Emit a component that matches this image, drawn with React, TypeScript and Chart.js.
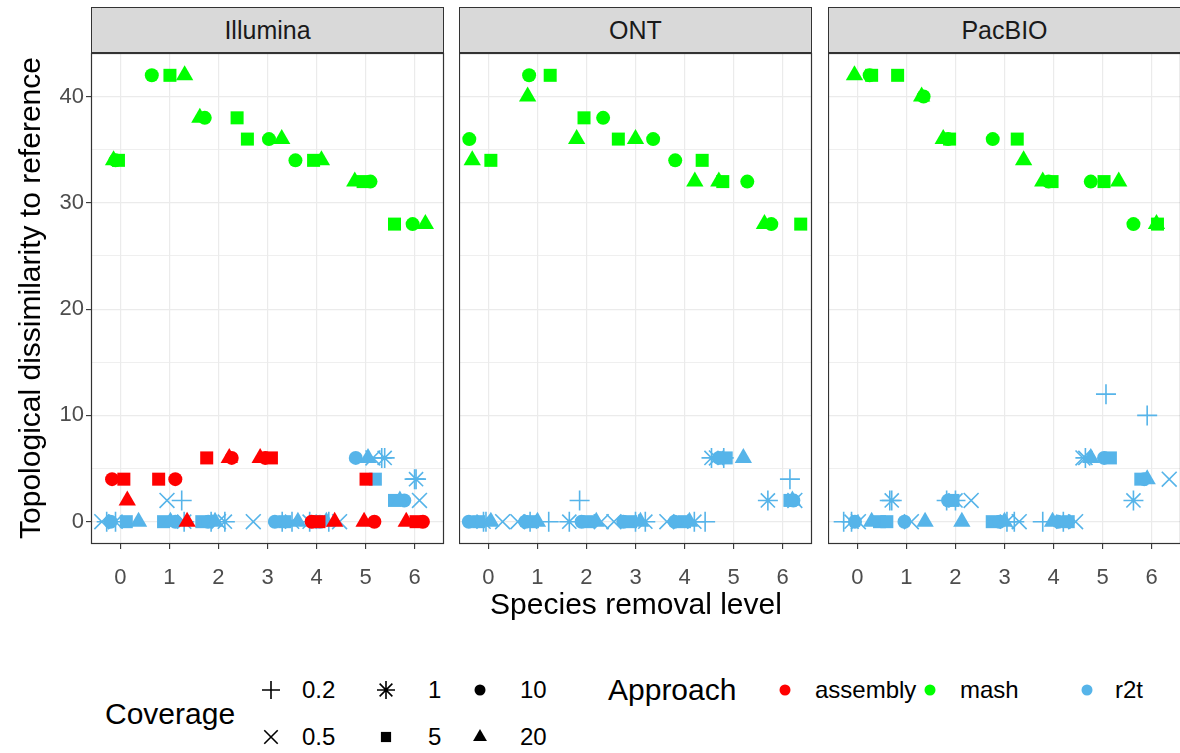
import React, { useEffect, useRef } from 'react';
import { Chart, registerables } from 'chart.js';
import { drawPoint } from 'chart.js/helpers';

Chart.register(...registerables);

// [jittered species removal level, topological dissimilarity, coverage]
type Pt = [number, number, number];

const panelNames = ['Illumina', 'ONT', 'PacBIO'];
const levelTicks = [0, 1, 2, 3, 4, 5, 6];
const yGridValues = [0, 5, 10, 15, 20, 25, 30, 35, 40];
const coverageLevels = [0.2, 0.5, 1, 5, 10, 20];
const approachNames = ['assembly', 'mash', 'r2t'];
const approachColors = ['#FF0000', '#00FF00', '#56B4E9'];

const illuminaAssembly: Pt[] = [
  [-0.17, 4, 10], [0.07, 4, 5], [0.14, 2, 20],
  [0.78, 4, 5], [1.12, 4, 10], [1.36, 0, 20],
  [1.76, 6, 5], [2.22, 6, 20], [2.27, 6, 10],
  [2.85, 6, 20], [2.95, 6, 10], [3.08, 6, 5],
  [3.9, 0, 10], [4.05, 0, 5], [4.37, 0, 20],
  [4.97, 0, 20], [5.18, 0, 10], [5.01, 4, 5],
  [5.83, 0, 20], [6.03, 0, 5], [6.17, 0, 10],
];
const illuminaMash: Pt[] = [
  [-0.1, 34, 10], [-0.04, 34, 5], [-0.14, 34, 20],
  [0.64, 42, 10], [1.01, 42, 5], [1.31, 42, 20],
  [1.72, 38, 10], [2.38, 38, 5], [1.62, 38, 20],
  [3.03, 36, 10], [2.59, 36, 5], [3.29, 36, 20],
  [3.57, 34, 10], [3.94, 34, 5], [4.1, 34, 20],
  [5.1, 32, 10], [4.95, 32, 5], [4.78, 32, 20],
  [5.96, 28, 10], [5.59, 28, 5], [6.22, 28, 20],
];
const illuminaR2t: Pt[] = [
  [-0.28, 0, 0.2], [-0.38, 0, 0.5], [-0.1, 0, 1], [0.12, 0, 5], [-0.2, 0, 10], [0.37, 0, 20],
  [1.25, 2, 0.2], [0.95, 2, 0.5], [1.3, 0, 1], [0.88, 0, 5], [1.12, 0, 10], [1.02, 0, 20],
  [1.85, 0, 0.2], [2.0, 0, 0.5], [2.13, 0, 1], [1.66, 0, 5], [1.79, 0, 10], [1.93, 0, 20],
  [3.3, 0, 0.2], [2.71, 0, 0.5], [3.5, 0, 1], [3.35, 0, 5], [3.15, 0, 10], [3.62, 0, 20],
  [4.25, 0, 0.2], [4.47, 0, 0.5], [3.86, 0, 1], [4.0, 0, 5], [4.07, 0, 10], [4.2, 0, 20],
  [5.33, 6, 0.2], [5.15, 6, 0.5], [5.39, 6, 1], [5.2, 4, 5], [4.8, 6, 10], [5.05, 6, 20],
  [6.0, 4, 0.2], [6.1, 2, 0.5], [6.03, 4, 1], [5.59, 2, 5], [5.79, 2, 10], [5.7, 2, 20],
];

const ontAssembly: Pt[] = [];
const ontMash: Pt[] = [
  [-0.39, 36, 10], [0.05, 34, 5], [-0.33, 34, 20],
  [0.83, 42, 10], [1.26, 42, 5], [0.8, 40, 20],
  [2.34, 38, 10], [1.95, 38, 5], [1.8, 36, 20],
  [3.36, 36, 10], [2.65, 36, 5], [3.0, 36, 20],
  [3.81, 34, 10], [4.36, 34, 5], [4.21, 32, 20],
  [5.28, 32, 10], [4.78, 32, 5], [4.7, 32, 20],
  [5.77, 28, 10], [6.37, 28, 5], [5.63, 28, 20],
];
const ontR2t: Pt[] = [
  [-0.05, 0, 0.2], [0.29, 0, 0.5], [-0.1, 0, 1], [-0.2, 0, 5], [-0.4, 0, 10], [0.05, 0, 20],
  [1.23, 0, 0.2], [0.6, 0, 0.5], [0.85, 0, 1], [0.9, 0, 5], [0.75, 0, 10], [1.0, 0, 20],
  [1.86, 2, 0.2], [2.3, 0, 0.5], [1.65, 0, 1], [2.05, 0, 5], [1.9, 0, 10], [2.2, 0, 20],
  [3.0, 0, 0.2], [2.56, 0, 0.5], [3.2, 0, 1], [2.9, 0, 5], [2.75, 0, 10], [3.1, 0, 20],
  [4.42, 0, 0.2], [3.64, 0, 0.5], [4.2, 0, 1], [4.0, 0, 5], [3.8, 0, 10], [4.1, 0, 20],
  [4.8, 6, 0.2], [4.65, 6, 0.5], [4.55, 6, 1], [4.85, 6, 5], [4.7, 6, 10], [5.2, 6, 20],
  [6.15, 4, 0.2], [6.25, 2, 0.5], [5.7, 2, 1], [6.15, 2, 5], [6.22, 2, 10], [6.2, 2, 20],
];

const pacbioAssembly: Pt[] = [];
const pacbioMash: Pt[] = [
  [0.25, 42, 10], [0.29, 42, 5], [-0.06, 42, 20],
  [1.35, 40, 10], [0.82, 42, 5], [1.31, 40, 20],
  [1.85, 36, 10], [1.88, 36, 5], [1.75, 36, 20],
  [2.76, 36, 10], [3.26, 36, 5], [3.39, 34, 20],
  [3.9, 32, 10], [3.97, 32, 5], [3.78, 32, 20],
  [4.76, 32, 10], [5.03, 32, 5], [5.33, 32, 20],
  [5.63, 28, 10], [6.12, 28, 5], [6.1, 28, 20],
];
const pacbioR2t: Pt[] = [
  [-0.28, 0, 0.2], [0.02, 0, 0.5], [-0.12, 0, 1], [0.45, 0, 5], [-0.05, 0, 10], [0.29, 0, 20],
  [0.66, 2, 0.2], [1.1, 0, 0.5], [0.7, 2, 1], [0.6, 0, 5], [0.96, 0, 10], [1.38, 0, 20],
  [1.82, 2, 0.2], [2.32, 2, 0.5], [2.0, 2, 1], [1.95, 2, 5], [1.85, 2, 10], [2.13, 0, 20],
  [3.2, 0, 0.2], [3.3, 0, 0.5], [3.05, 0, 1], [2.75, 0, 5], [2.9, 0, 10], [3.0, 0, 20],
  [3.78, 0, 0.2], [4.45, 0, 0.5], [4.2, 0, 1], [4.3, 0, 5], [4.1, 0, 10], [3.98, 0, 20],
  [5.07, 12, 0.2], [4.6, 6, 0.5], [4.65, 6, 1], [5.16, 6, 5], [5.03, 6, 10], [4.76, 6, 20],
  [5.91, 10, 0.2], [6.36, 4, 0.5], [5.63, 2, 1], [5.78, 4, 5], [5.85, 4, 10], [5.91, 4, 20],
];

const panelSeries: Pt[][][] = [
  [illuminaAssembly, illuminaMash, illuminaR2t],
  [ontAssembly, ontMash, ontR2t],
  [pacbioAssembly, pacbioMash, pacbioR2t],
];

// ---- styling / layout ----
const FONT = "'Liberation Sans', Arial, Helvetica, sans-serif";
const PANEL_LEFTS = [91, 459, 828];
const PANEL_W = 353;
const PLOT_TOP = 53;
const PLOT_H = 491;
const X_AXIS_H = 60;
const Y_AXIS_W = 50;

type Shape = { style: string; r: number; line: boolean };
const panelShapes: Record<string, Shape> = {
  '0.2': { style: 'cross', r: 10, line: true },
  '0.5': { style: 'crossRot', r: 10.5, line: true },
  '1': { style: 'star', r: 10, line: true },
  '5': { style: 'rect', r: 9.2, line: false },
  '10': { style: 'circle', r: 7, line: false },
  '20': { style: 'triangle', r: 10, line: false },
};
const legendShapes: Record<string, Shape> = {
  '0.2': { style: 'cross', r: 9, line: true },
  '0.5': { style: 'crossRot', r: 9.5, line: true },
  '1': { style: 'star', r: 9, line: true },
  '5': { style: 'rect', r: 7.2, line: false },
  '10': { style: 'circle', r: 5.5, line: false },
  '20': { style: 'triangle', r: 8, line: false },
};

function shapeOf(c: any): Shape {
  return panelShapes[String(c)] || panelShapes['10'];
}

function makeDataset(label: string, pts: Pt[], color: string) {
  return {
    label,
    data: pts.map(([x, y, c]) => ({ x, y, c })),
    pointStyle: (ctx: any) => shapeOf(ctx.raw?.c).style,
    pointRadius: (ctx: any) => shapeOf(ctx.raw?.c).r,
    pointHoverRadius: (ctx: any) => shapeOf(ctx.raw?.c).r,
    pointBorderWidth: (ctx: any) => (shapeOf(ctx.raw?.c).line ? 1.6 : 0),
    pointBackgroundColor: color,
    pointBorderColor: color,
    showLine: false,
  };
}

const panelBorder = {
  id: 'panelBorder',
  afterDraw(chart: any) {
    const { ctx, chartArea: a } = chart;
    ctx.save();
    ctx.strokeStyle = '#333333';
    ctx.lineWidth = 1.2;
    ctx.strokeRect(a.left + 0.5, a.top + 0.5, a.right - a.left - 1, a.bottom - a.top - 1);
    ctx.restore();
  },
};

function Panel({ index }: { index: number }) {
  const ref = useRef<HTMLCanvasElement>(null);
  const showY = index === 0;
  const leftW = showY ? Y_AXIS_W : 0;
  const w = leftW + PANEL_W + 1;
  const h = 1 + PLOT_H + X_AXIS_H;
  useEffect(() => {
    const series = panelSeries[index];
    const chart = new Chart(ref.current as HTMLCanvasElement, {
      type: 'scatter',
      data: {
        datasets: series.map((pts, i) => makeDataset(approachNames[i], pts, approachColors[i])) as any,
      },
      options: {
        responsive: false,
        animation: false,
        devicePixelRatio: 1,
        events: [],
        layout: { autoPadding: false, padding: { top: 1, right: 1, left: 0, bottom: 0 } } as any,
        plugins: { legend: { display: false }, tooltip: { enabled: false } },
        scales: {
          x: {
            type: 'linear',
            min: -0.6,
            max: 6.6,
            afterBuildTicks: (s: any) => {
              s.ticks = levelTicks.map((v) => ({ value: v }));
            },
            afterFit: (s: any) => {
              s.height = X_AXIS_H;
              s.paddingLeft = 0;
              s.paddingRight = 0;
              s.paddingTop = 0;
              s.paddingBottom = 0;
            },
            grid: {
              color: '#EBEBEB',
              lineWidth: 1.2,
              tickColor: '#333333',
              tickLength: 5,
              tickWidth: 1.1,
              drawTicks: true,
            },
            border: { display: false },
            ticks: {
              autoSkip: false,
              maxRotation: 0,
              padding: 18,
              color: '#4D4D4D',
              font: { family: FONT, size: 22, lineHeight: 1 },
              callback: (v: any) => String(v),
            },
          },
          y: {
            type: 'linear',
            min: -2.1,
            max: 44.1,
            afterBuildTicks: (s: any) => {
              s.ticks = yGridValues.map((v) => ({ value: v }));
            },
            afterFit: (s: any) => {
              s.width = leftW;
              s.paddingLeft = 0;
              s.paddingRight = 0;
              s.paddingTop = 0;
              s.paddingBottom = 0;
            },
            grid: {
              color: '#EBEBEB',
              lineWidth: (ctx: any) => (ctx.tick && ctx.tick.value % 10 === 0 ? 1.2 : 0.8),
              tickColor: (ctx: any) =>
                ctx.tick && ctx.tick.value % 10 === 0 ? '#333333' : 'rgba(0,0,0,0)',
              tickLength: 5,
              tickWidth: 1.1,
              drawTicks: showY,
            },
            border: { display: false },
            ticks: {
              display: showY,
              padding: 2,
              color: '#4D4D4D',
              font: { family: FONT, size: 22, lineHeight: 1 },
              callback: (v: any) => (Number(v) % 10 === 0 ? String(v) : ''),
            },
          },
        },
      } as any,
      plugins: [panelBorder],
    });
    return () => chart.destroy();
  }, []);
  return (
    <canvas
      ref={ref}
      width={w}
      height={h}
      style={{
        position: 'absolute',
        left: PANEL_LEFTS[index] - leftW,
        top: PLOT_TOP - 1,
        width: w,
        height: h,
      }}
    />
  );
}

function Label(props: {
  x: number;
  y: number;
  text: string;
  size: number;
  align?: 'left' | 'center';
  color?: string;
}) {
  const { x, y, text, size, align = 'left', color = '#000000' } = props;
  const h = Math.round(size * 1.4);
  const style: any = {
    position: 'absolute',
    top: y - h / 2,
    height: h,
    lineHeight: h + 'px',
    fontSize: size,
    color,
    whiteSpace: 'nowrap',
    fontFamily: FONT,
  };
  if (align === 'left') {
    style.left = x;
  } else {
    style.left = x - 400;
    style.width = 800;
    style.textAlign = 'center';
  }
  return <div style={style}>{text}</div>;
}

function Sym({ x, y, shape, color }: { x: number; y: number; shape: Shape; color: string }) {
  const ref = useRef<HTMLCanvasElement>(null);
  useEffect(() => {
    const c = ref.current as HTMLCanvasElement;
    const ctx = c.getContext('2d') as CanvasRenderingContext2D;
    ctx.clearRect(0, 0, 30, 30);
    ctx.fillStyle = color;
    ctx.strokeStyle = color;
    ctx.lineWidth = 1.6;
    drawPoint(ctx, { pointStyle: shape.style as any, radius: shape.r, rotation: 0, borderWidth: shape.line ? 1.6 : 0 } as any, 15, 15);
  }, []);
  return (
    <canvas
      ref={ref}
      width={30}
      height={30}
      style={{ position: 'absolute', left: x - 15, top: y - 15, width: 30, height: 30 }}
    />
  );
}

const covSymX = [271, 386, 480];
const covLabelX = [302, 428, 520];
const covRowY = [690, 737];
const approachSymX = [785, 930, 1087];
const approachLabelX = [815, 960, 1115];

export default function App() {
  return (
    <div
      style={{
        position: 'fixed',
        left: 0,
        top: 0,
        width: 1180,
        height: 753,
        overflow: 'hidden',
        background: '#FFFFFF',
        fontFamily: FONT,
      }}
    >
      {panelNames.map((name, i) => (
        <div
          key={'strip' + i}
          style={{
            position: 'absolute',
            left: PANEL_LEFTS[i],
            top: 7,
            width: PANEL_W,
            height: PLOT_TOP - 7,
            boxSizing: 'border-box',
            border: '1.2px solid #333333',
            background: '#D9D9D9',
            color: '#1A1A1A',
            fontSize: 25,
            textAlign: 'center',
            lineHeight: PLOT_TOP - 7 - 2 + 'px',
            fontFamily: FONT,
          }}
        >
          {name}
        </div>
      ))}
      {panelNames.map((_, i) => (
        <Panel key={'panel' + i} index={i} />
      ))}
      <Label x={636} y={604} text="Species removal level" size={30} align="center" />
      <div
        style={{
          position: 'absolute',
          left: 30 - 400,
          top: 298 - 21,
          width: 800,
          height: 42,
          lineHeight: '42px',
          textAlign: 'center',
          fontSize: 30,
          whiteSpace: 'nowrap',
          transform: 'rotate(-90deg)',
          transformOrigin: '50% 50%',
          fontFamily: FONT,
        }}
      >
        Topological dissimilarity to reference
      </div>

      <Label x={105} y={714} text="Coverage" size={30} />
      {coverageLevels.map((c, k) => {
        const col = Math.floor(k / 2);
        const row = k % 2;
        return (
          <React.Fragment key={'cov' + k}>
            <Sym x={covSymX[col]} y={covRowY[row]} shape={legendShapes[String(c)]} color="#000000" />
            <Label x={covLabelX[col]} y={covRowY[row]} text={String(c)} size={24} />
          </React.Fragment>
        );
      })}
      <Label x={608} y={690} text="Approach" size={30} />
      {approachNames.map((a, k) => (
        <React.Fragment key={'ap' + k}>
          <Sym x={approachSymX[k]} y={690} shape={legendShapes['10']} color={approachColors[k]} />
          <Label x={approachLabelX[k]} y={690} text={a} size={24} />
        </React.Fragment>
      ))}
    </div>
  );
}
